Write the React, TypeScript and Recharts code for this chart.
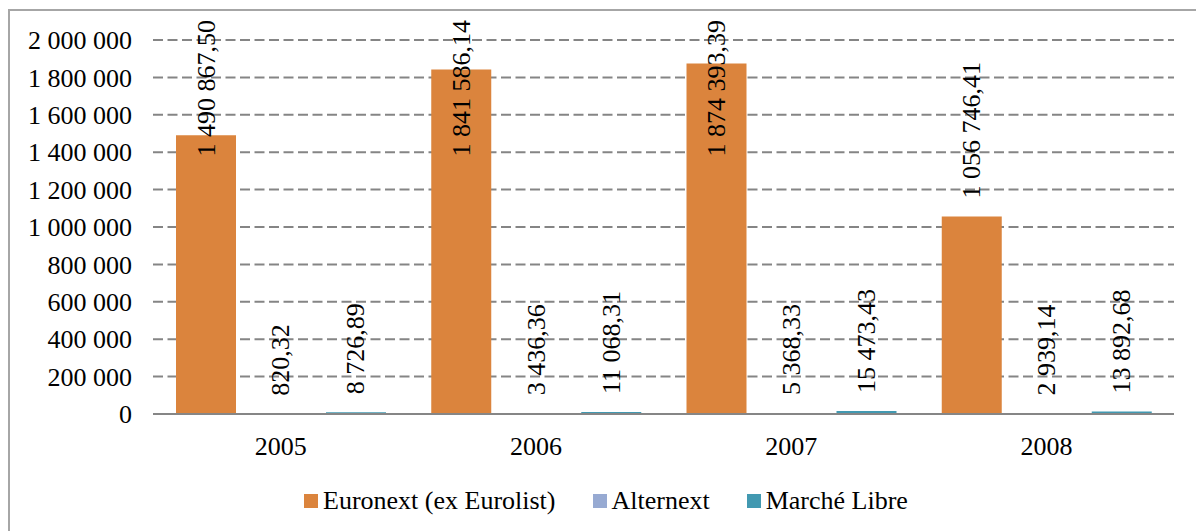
import React from "react";
import { BarChart, Bar, XAxis, YAxis, CartesianGrid, LabelList } from "recharts";

const years = ["2005", "2006", "2007", "2008"];
const euronext = [1490867.5, 1841586.14, 1874393.39, 1056746.41];
const alternext = [820.32, 3436.36, 5368.33, 2939.14];
const marcheLibre = [8726.89, 11068.31, 15473.43, 13892.68];
const yTicks = [0, 200000, 400000, 600000, 800000, 1000000, 1200000, 1400000, 1600000, 1800000, 2000000];

const series = [
  { key: "euronext", name: "Euronext (ex Eurolist)", color: "#DB843D" },
  { key: "alternext", name: "Alternext", color: "#97AAD2" },
  { key: "marcheLibre", name: "Marché Libre", color: "#4299B1" },
];

const data = years.map((year, i) => ({
  year,
  euronext: euronext[i],
  alternext: alternext[i],
  marcheLibre: marcheLibre[i],
}));

const FONT = '"Liberation Serif", "Times New Roman", serif';
const FONT_SIZE = 26;

const groupThousands = (s: string) => s.replace(/\B(?=(\d{3})+(?!\d))/g, " ");

const formatTick = (v: number) => groupThousands(String(Math.round(v)));

const formatValue = (v: number) => {
  const [int, dec] = v.toFixed(2).split(".");
  return groupThousands(int) + "," + dec;
};

// rough width of the text in Times-like font
const textLen = (s: string) =>
  s.split("").reduce((acc, c) => acc + (c === " " || c === "," ? 0.25 : 0.5), 0) * FONT_SIZE;

const ValueLabel = (props: any) => {
  const { x, y, width, value } = props;
  const text = formatValue(Number(value));
  const cx = Number(x) + Number(width) / 2;
  const len = textLen(text);
  let start = Number(y) - 18;
  if (start - len < 20) start = 20 + len;
  return (
    <text
      x={cx}
      y={start}
      transform={`rotate(-90 ${cx} ${start})`}
      textAnchor="start"
      dominantBaseline="central"
      fontFamily={FONT}
      fontSize={FONT_SIZE}
      fill="#000"
    >
      {text}
    </text>
  );
};

const App: React.FC = () => {
  return (
    <div style={{ position: "absolute", left: 0, top: 0, width: 1196, height: 531, overflow: "hidden", background: "#fff" }}>
      <div
        style={{
          position: "absolute",
          left: 8,
          top: 9,
          width: 1200,
          height: 540,
          border: "2px solid #a6a6a6",
          boxSizing: "border-box",
        }}
      />
      <div style={{ position: "absolute", left: 0, top: 0 }}>
        <BarChart
          width={1196}
          height={531}
          data={data}
          margin={{ top: 40, right: 22, left: 0, bottom: 87 }}
          barSize={60}
          barGap={15}
        >
          <CartesianGrid vertical={false} stroke="#858585" strokeWidth={2} strokeDasharray="10 4.5" />
          <XAxis
            dataKey="year"
            height={30}
            tickLine={false}
            tickSize={0}
            tickMargin={23}
            axisLine={{ stroke: "#868686", strokeWidth: 2 }}
            tick={{ fill: "#000", fontFamily: FONT, fontSize: FONT_SIZE }}
          />
          <YAxis
            width={153}
            domain={[0, 2000000]}
            ticks={yTicks}
            interval={0}
            tickFormatter={formatTick}
            axisLine={false}
            tickLine={false}
            tickSize={0}
            tickMargin={21}
            tick={{ fill: "#000", fontFamily: FONT, fontSize: FONT_SIZE }}
          />
          {series.map((s) => (
            <Bar key={s.key} dataKey={s.key} name={s.name} fill={s.color} isAnimationActive={false}>
              <LabelList dataKey={s.key} content={ValueLabel} />
            </Bar>
          ))}
        </BarChart>
      </div>
      <div
        style={{
          position: "absolute",
          left: 304,
          top: 485,
          display: "flex",
          alignItems: "center",
          fontFamily: FONT,
          fontSize: FONT_SIZE,
          color: "#000",
          lineHeight: "32px",
        }}
      >
        {series.map((s, i) => (
          <div key={s.key} style={{ display: "flex", alignItems: "center", marginRight: i < series.length - 1 ? 37 : 0 }}>
            <span style={{ display: "inline-block", width: 14, height: 14, background: s.color, marginRight: 5 }} />
            <span>{s.name}</span>
          </div>
        ))}
      </div>
    </div>
  );
};

export default App;
